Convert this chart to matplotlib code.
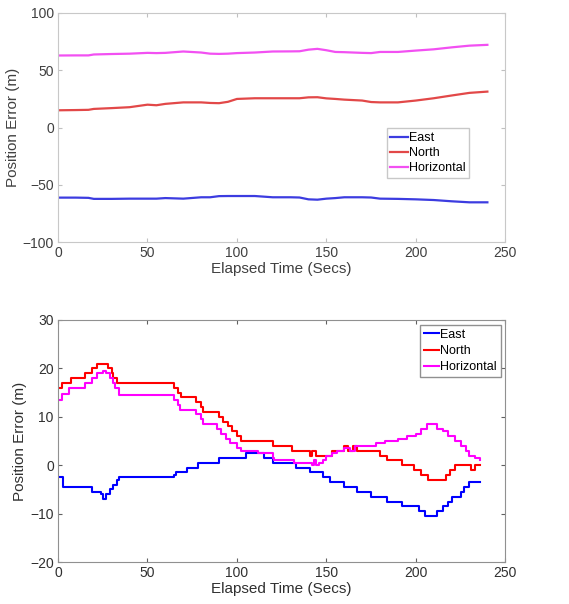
import matplotlib.pyplot as plt

plt.rcParams['font.family'] = ['Liberation Sans', 'DejaVu Sans']

# top panel
t1 = [0, 10, 17, 20, 30, 40, 50, 55, 60, 70, 80, 85, 90, 95, 100, 110, 120, 130, 135, 140, 145, 150, 155, 160, 170, 175, 180, 190, 200, 210, 220, 230, 240]
east1 = [-61.1, -61.1, -61.3, -62.2, -62.2, -62.0, -62.0, -62.0, -61.5, -62.0, -60.8, -60.8, -59.8, -59.7, -59.7, -59.7, -60.8, -60.8, -61.0, -62.6, -62.9, -62.0, -61.5, -60.8, -60.8, -61.0, -62.0, -62.2, -62.6, -63.2, -64.3, -65.2, -65.2]
north1 = [15.1, 15.3, 15.5, 16.3, 17.0, 17.8, 20.0, 19.5, 20.7, 22.0, 22.0, 21.5, 21.3, 22.5, 25.0, 25.6, 25.6, 25.6, 25.6, 26.4, 26.5, 25.5, 25.0, 24.4, 23.6, 22.3, 22.0, 22.0, 23.6, 25.6, 28.0, 30.3, 31.4]
horiz1 = [62.9, 63.0, 63.0, 63.8, 64.2, 64.5, 65.2, 65.0, 65.2, 66.4, 65.5, 64.5, 64.3, 64.5, 65.0, 65.5, 66.4, 66.5, 66.6, 68.0, 68.7, 67.5, 66.0, 65.8, 65.2, 65.0, 66.0, 66.0, 67.2, 68.3, 70.0, 71.5, 72.2]

# bottom panel breakpoints (stepwise)
t_n = [0, 2, 7, 15, 19, 22, 28, 30, 31, 33, 65, 67, 69, 77, 80, 81, 90, 92, 95, 97, 100, 102, 120, 131, 141, 142, 143, 144, 145, 153, 160, 162, 165, 167, 180, 184, 188, 192, 199, 203, 207, 217, 219, 222, 231, 233, 236]
north2 = [16, 17, 18, 19, 20, 21, 20, 19, 18, 17, 16, 15, 14, 13, 12, 11, 10, 9, 8, 7, 6, 5, 4, 3, 2, 3, 3, 2, 2, 3, 4, 3, 4, 3, 2, 1, 1, 0, -1, -2, -3, -2, -1, 0, -1, 0, 0]
t_h = [0, 2, 6, 15, 19, 22, 25, 27, 29, 31, 32, 34, 65, 67, 68, 77, 80, 81, 89, 91, 94, 96, 100, 102, 112, 120, 121, 132, 142, 143, 144, 146, 148, 150, 153, 156, 160, 163, 166, 178, 183, 190, 195, 200, 203, 206, 212, 215, 218, 222, 225, 228, 230, 233, 236]
horiz2 = [13.5, 14.8, 15.9, 16.9, 18.0, 19.0, 19.5, 19.0, 18.0, 17.0, 16.0, 14.5, 13.5, 12.5, 11.5, 10.5, 9.5, 8.5, 7.5, 6.5, 5.5, 4.5, 3.5, 3.0, 2.5, 1.5, 1.0, 0.5, 0.0, 1.0, 0.0, 0.5, 1.0, 2.0, 2.5, 3.0, 3.5, 3.0, 4.0, 4.5, 5.0, 5.5, 6.0, 6.5, 7.5, 8.5, 7.5, 7.0, 6.0, 5.0, 4.0, 3.0, 2.0, 1.5, 1.0]
t_e = [0, 3, 19, 24, 25, 27, 29, 31, 33, 34, 65, 66, 72, 78, 90, 105, 115, 120, 133, 141, 148, 152, 160, 167, 175, 184, 192, 202, 205, 212, 215, 218, 220, 225, 227, 230, 236]
east2 = [-2.5, -4.5, -5.5, -6.0, -7.0, -6.0, -5.0, -4.0, -3.0, -2.5, -2.0, -1.5, -0.5, 0.5, 1.5, 2.5, 1.5, 0.5, -0.5, -1.5, -2.5, -3.5, -4.5, -5.5, -6.5, -7.5, -8.5, -9.5, -10.5, -9.5, -8.5, -7.5, -6.5, -5.5, -4.5, -3.5, -3.5]

labels = ['East', 'North', 'Horizontal']

fig = plt.figure(figsize=(5.69, 6.04), dpi=100)

# top chart
ax1 = fig.add_axes([0.102, 0.599, 0.786, 0.3795])
ax1.plot(t1, east1, color='#3c3ce0', lw=1.6, label=labels[0])
ax1.plot(t1, north1, color='#e24848', lw=1.6, label=labels[1])
ax1.plot(t1, horiz1, color='#f250f2', lw=1.6, label=labels[2])
ax1.set_xlim(0, 250)
ax1.set_ylim(-100, 100)
ax1.set_xticks([0, 50, 100, 150, 200, 250])
ax1.set_yticks([-100, -50, 0, 50, 100])
ax1.set_xlabel('Elapsed Time (Secs)', fontsize=11, color='#404040', labelpad=1)
ax1.set_ylabel('Position Error (m)', fontsize=11, color='#404040', labelpad=2)
ax1.tick_params(direction='in', top=True, right=True, labelsize=10, colors='#c0c0c0',
                labelcolor='#404040', length=3, pad=3)
for s in ax1.spines.values():
    s.set_color('#c8c8c8')
leg1 = ax1.legend(loc='lower right', bbox_to_anchor=(0.92, 0.28), fontsize=9,
                  handlelength=1.4, handletextpad=0.1, borderpad=0.3, labelspacing=0.25,
                  fancybox=False, framealpha=1, borderaxespad=0)
leg1.get_frame().set_edgecolor('#c8c8c8')

# bottom chart
ax2 = fig.add_axes([0.102, 0.0695, 0.786, 0.4007])
ax2.plot(t_e, east2, color='#0000ff', lw=1.5, drawstyle='steps-post', label=labels[0])
ax2.plot(t_n, north2, color='#ff0000', lw=1.5, drawstyle='steps-post', label=labels[1])
ax2.plot(t_h, horiz2, color='#ff00ff', lw=1.5, drawstyle='steps-post', label=labels[2])
ax2.set_xlim(0, 250)
ax2.set_ylim(-20, 30)
ax2.set_xticks([0, 50, 100, 150, 200, 250])
ax2.set_yticks([-20, -10, 0, 10, 20, 30])
ax2.set_xlabel('Elapsed Time (Secs)', fontsize=11, color='#303030', labelpad=1)
ax2.set_ylabel('Position Error (m)', fontsize=11, color='#303030', labelpad=2)
ax2.tick_params(direction='in', top=True, right=True, labelsize=10, colors='#606060',
                labelcolor='#303030', length=3, pad=3)
for s in ax2.spines.values():
    s.set_color('#909090')
leg2 = ax2.legend(loc='upper right', bbox_to_anchor=(0.99, 0.98), fontsize=9,
                  handlelength=1.2, handletextpad=0.1, borderpad=0.3, labelspacing=0.35,
                  fancybox=False, framealpha=1, borderaxespad=0)
leg2.get_frame().set_edgecolor('#909090')

fig.savefig('out.png', dpi=100)
